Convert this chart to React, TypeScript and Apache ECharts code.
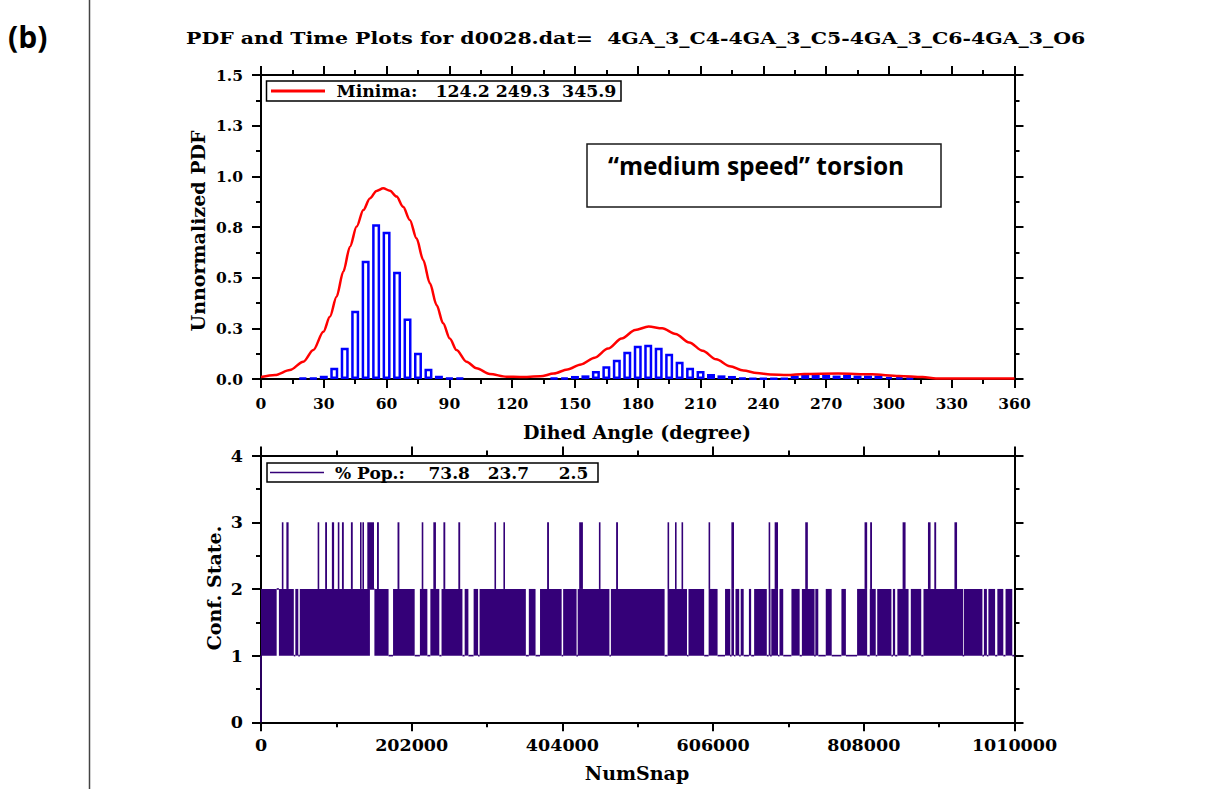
import React, { useEffect, useRef } from "react";
import * as echarts from "echarts";

// ---------- data ----------
const histCenters = [20, 25, 30, 35, 40, 45, 50, 55, 60, 65, 70, 75, 80, 85, 90, 95,
  140, 145, 150, 155, 160, 165, 170, 175, 180, 185, 190, 195, 200, 205, 210, 215, 220, 225, 230,
  235, 240, 245, 250, 255, 260, 265, 270, 275, 280, 285, 290, 295, 300, 305, 310];
const histHeights = [0.004, 0.004, 0.016, 0.056, 0.154, 0.337, 0.584, 0.763, 0.727, 0.529, 0.298, 0.13, 0.051, 0.016, 0.004, 0.004,
  0.004, 0.006, 0.015, 0.018, 0.04, 0.063, 0.095, 0.135, 0.164, 0.169, 0.154, 0.125, 0.085, 0.055, 0.04, 0.025, 0.018, 0.015, 0.005,
  0.003, 0.003, 0.003, 0.003, 0.017, 0.02, 0.02, 0.02, 0.017, 0.02, 0.017, 0.017, 0.017, 0.01, 0.007, 0.005];

const pdfAngles = [0, 6.7, 13.8, 20.2, 25, 29.8, 32.9, 36.1, 39.3, 42.5, 45.7, 48.9, 52, 55.2, 58.4, 61.6, 64.8, 67.9,
  71.1, 74.3, 77.5, 80.7, 83.9, 87, 90.2, 93.4, 98.2, 103, 109.3, 117.3, 123.8, 133.5, 139.9, 146.4, 152.9, 159.4,
  165.8, 172.3, 178.8, 185.2, 191.7, 198.1, 204.6, 211, 217.5, 224, 230.5, 236.9, 243.4, 251.4, 259.5, 275.7,
  291.8, 304.8, 316.1, 322.5, 360];
const pdfValues = [0.01, 0.02, 0.044, 0.085, 0.143, 0.233, 0.307, 0.406, 0.529, 0.653, 0.752, 0.834, 0.891, 0.928, 0.941, 0.929, 0.9, 0.85,
  0.785, 0.694, 0.587, 0.472, 0.365, 0.275, 0.2, 0.143, 0.085, 0.053, 0.025, 0.011, 0.01, 0.013, 0.027, 0.047, 0.072, 0.105,
  0.15, 0.2, 0.242, 0.259, 0.25, 0.222, 0.18, 0.139, 0.097, 0.063, 0.042, 0.03, 0.022, 0.02, 0.025, 0.027,
  0.023, 0.015, 0.01, 0.003, 0.003];

// conformational-state trajectory (snapshot numbers)
const snapMax = 1010000;
const firstState = 0;
const bandStart = 0;       // dense 1<->2 switching begins
const bandEnd = 1007000;   // dense switching ends
// intervals where the state stays put: [from, to, state]
const stays: [number, number, number][] = [
  [21000, 24000, 2], [44000, 46000, 1], [50000, 52000, 1], [146000, 152000, 2], [171000, 177000, 1],
  [206000, 213000, 1], [223000, 227000, 1], [239000, 242000, 1], [270000, 273000, 1], [278000, 285000, 1],
  [291000, 293000, 1], [355000, 359000, 1], [368000, 374000, 1], [403000, 405000, 1], [423000, 424500, 1],
  [467000, 469000, 1], [541000, 545000, 1], [571000, 573000, 1], [594000, 600000, 1], [612000, 622000, 1],
  [629000, 630500, 1], [634000, 636000, 1], [641000, 643000, 1], [647000, 654000, 1], [657000, 661000, 1],
  [678000, 680500, 1], [683000, 684000, 1], [693000, 695000, 1], [700000, 711000, 1], [722000, 725000, 1],
  [742000, 743000, 1], [747000, 757000, 1], [765000, 778000, 1], [784000, 799000, 1], [812500, 816000, 1],
  [824000, 826000, 1], [845000, 847000, 1], [850000, 853000, 1], [868000, 871000, 1], [885000, 888000, 1],
  [941000, 942000, 1], [967000, 969000, 1], [973000, 975000, 1], [984000, 987000, 1], [995000, 998000, 1],
  [1007000, 1010000, 1],
];
// excursions to state 3: [from, to]
const hops: [number, number][] = [
  [28000, 30000], [34000, 37000], [76000, 78000], [86000, 88500], [95000, 98000], [103000, 105000],
  [108500, 111000], [120500, 123000], [133000, 134500], [136000, 138000], [142500, 151500], [155500, 158000],
  [183000, 185500], [215500, 217500], [231000, 234500], [244500, 247000], [264500, 267000], [313000, 315000],
  [325000, 327000], [383500, 386000], [426500, 431500], [453000, 455000], [476000, 478500], [545000, 547000],
  [555000, 557000], [564000, 565500], [600000, 602000], [630500, 634000], [680500, 682500], [688500, 693000],
  [729500, 733000], [809000, 812500], [816500, 819000], [860000, 864000], [894000, 897500], [902500, 905000],
  [929500, 933000],
];

const titleText = "PDF and Time Plots for d0028.dat=  4GA_3_C4-4GA_3_C5-4GA_3_C6-4GA_3_O6";
const minimaText = "Minima:   124.2 249.3  345.9";
const popText = "% Pop.:    73.8   23.7     2.5";
const noteText = "\u201Cmedium speed\u201D torsion";

// ---------- styling ----------
const SERIF = '"DejaVu Serif", serif';
const SANS = '"Open Sans", "Noto Sans", sans-serif';
const STATE_COLOR = "#340078";

function buildStateItems(): number[][] {
  const items: number[][] = [];
  items.push([0, 0, firstState, 1]);
  const sorted = stays.filter((s) => s[0] < bandEnd).sort((a, b) => a[0] - b[0]);
  let cur = bandStart;
  for (const s of sorted) {
    if (s[0] > cur) items.push([cur, s[0], 1, 2]);
    cur = Math.max(cur, s[1]);
  }
  if (cur < bandEnd) items.push([cur, bandEnd, 1, 2]);
  for (const s of stays) items.push([s[0], s[1], s[2], s[2]]);
  for (const h of hops) items.push([h[0], h[1], 2, 3]);
  return items;
}

export default function App() {
  const ref = useRef<HTMLDivElement>(null);
  useEffect(() => {
    if (!ref.current) return;
    const chart = echarts.init(ref.current, undefined, { renderer: "svg" });

    const axisLine = { show: true, onZero: false, lineStyle: { color: "#000", width: 2 } };
    const axisTick = { show: true, inside: false, length: 9, lineStyle: { color: "#000", width: 2 } };
    const minorTick = { show: true, splitNumber: 2, length: 5, lineStyle: { color: "#000", width: 2 } };
    const common = { axisLine, axisTick, minorTick, splitLine: { show: false }, minorSplitLine: { show: false } };
    const lblTop = { color: "#000", fontFamily: SERIF, fontWeight: "bold" as const, fontSize: 15.5 };
    const lblBot = { color: "#000", fontFamily: SERIF, fontWeight: "bold" as const, fontSize: 17.5 };

    const gridTop = { left: 261, top: 75, width: 753.5, height: 304 };
    const gridBot = { left: 261, top: 455.6, width: 753.5, height: 266.7 };
    const binPx = (5 * gridTop.width) / 360;
    const barBorder = 2.5;

    const txt = (x: number, y: number, text: string, size: number, opts: any = {}) => ({
      type: "text",
      x, y, z: 100,
      rotation: opts.rotation || 0,
      scaleX: opts.scaleX || 1,
      style: {
        text,
        fill: "#000",
        fontFamily: opts.family || SERIF,
        fontWeight: "bold",
        fontSize: size,
        align: opts.align || "center",
        textAlign: opts.align || "center",
        verticalAlign: "middle",
        textVerticalAlign: "middle",
      },
    });

    const option: any = {
      animation: false,
      backgroundColor: "#fff",
      grid: [gridTop, gridBot],
      xAxis: [
        { gridIndex: 0, type: "value", position: "bottom", min: 0, max: 360, interval: 30, ...common,
          axisLabel: { ...lblTop, margin: 16, showMinLabel: true, showMaxLabel: true } },
        { gridIndex: 0, type: "value", position: "top", min: 0, max: 360, interval: 30, ...common, axisLabel: { show: false } },
        { gridIndex: 1, type: "value", position: "bottom", min: 0, max: snapMax, interval: 202000, ...common,
          axisLabel: { ...lblBot, margin: 14, showMinLabel: true, showMaxLabel: true, formatter: (v: number) => String(v) } },
        { gridIndex: 1, type: "value", position: "top", min: 0, max: snapMax, interval: 202000, ...common, axisLabel: { show: false } },
      ],
      yAxis: [
        { gridIndex: 0, type: "value", position: "left", min: 0, max: 1.5, interval: 0.25, ...common,
          axisLabel: { ...lblTop, margin: 18, formatter: (v: number) => v.toFixed(1) } },
        { gridIndex: 0, type: "value", position: "right", min: 0, max: 1.5, interval: 0.25, ...common, axisLabel: { show: false } },
        { gridIndex: 1, type: "value", position: "left", min: 0, max: 4, interval: 1, ...common,
          axisLabel: { ...lblBot, margin: 18, formatter: (v: number) => String(v) } },
        { gridIndex: 1, type: "value", position: "right", min: 0, max: 4, interval: 1, ...common, axisLabel: { show: false } },
      ],
      series: [
        {
          type: "bar",
          xAxisIndex: 0, yAxisIndex: 0,
          barWidth: binPx - barBorder,
          itemStyle: { color: "#ffffff", borderColor: "#0000ff", borderWidth: barBorder },
          data: histCenters.map((c, i) => [c, histHeights[i]]),
          silent: true,
        },
        {
          type: "line",
          xAxisIndex: 0, yAxisIndex: 0,
          symbol: "none",
          smooth: 0.3,
          smoothMonotone: "x",
          lineStyle: { color: "#ff0000", width: 2.5 },
          data: pdfAngles.map((a, i) => [a, pdfValues[i]]),
          silent: true,
        },
        {
          type: "custom",
          xAxisIndex: 2, yAxisIndex: 2,
          encode: { x: [0, 1], y: [2, 3] },
          data: buildStateItems(),
          silent: true,
          renderItem: (_p: any, api: any) => {
            const x0 = api.value(0), x1 = api.value(1), lo = api.value(2), hi = api.value(3);
            const a = api.coord([x0, hi]);
            const b = api.coord([x1, lo]);
            let x = a[0], w = b[0] - a[0];
            if (w < 1.6) { x = (a[0] + b[0]) / 2 - 0.8; w = 1.6; }
            let y = a[1], h = b[1] - a[1];
            if (h < 1.6) { y = (a[1] + b[1]) / 2 - 0.8; h = 1.6; }
            return { type: "rect", shape: { x, y, width: w, height: h }, style: { fill: STATE_COLOR } };
          },
        },
      ],
      graphic: [
        { type: "line", z: 100, shape: { x1: 89.5, y1: 0, x2: 89.5, y2: 789 }, style: { stroke: "#444", lineWidth: 1.5 } },
        txt(8, 36, "(b)", 30, { family: SANS, align: "left" }),
        txt(186, 38, titleText, 17.5, { align: "left", scaleX: 1.17 }),
        // top legend
        { type: "rect", z: 100, shape: { x: 266.5, y: 81, width: 354.5, height: 20 }, style: { fill: "#fff", stroke: "#000", lineWidth: 1.5 } },
        { type: "line", z: 101, shape: { x1: 271, y1: 91, x2: 325, y2: 91 }, style: { stroke: "#ff0000", lineWidth: 3 } },
        { ...txt(336.5, 91.5, minimaText, 17, { align: "left", scaleX: 1.02 }), z: 101 },
        // annotation
        { type: "rect", z: 100, shape: { x: 587, y: 144, width: 354, height: 63 }, style: { fill: "#fff", stroke: "#1a1a1a", lineWidth: 1.5 } },
        { ...txt(608, 165, noteText, 24.5, { family: SANS, align: "left" }), z: 101 },
        // bottom legend
        { type: "rect", z: 100, shape: { x: 267, y: 463, width: 331, height: 19 }, style: { fill: "#fff", stroke: "#000", lineWidth: 1.5 } },
        { type: "line", z: 101, shape: { x1: 270, y1: 472.5, x2: 324, y2: 472.5 }, style: { stroke: STATE_COLOR, lineWidth: 1.5 } },
        { ...txt(335, 472.5, popText, 17, { align: "left" }), z: 101 },
        // axis names
        txt(198, 231, "Unnormalized PDF", 19, { rotation: Math.PI / 2 }),
        txt(637, 432, "Dihed Angle (degree)", 19),
        txt(214, 588, "Conf. State.", 19, { rotation: Math.PI / 2 }),
        txt(637, 773, "NumSnap", 19),
      ],
    };
    chart.setOption(option);
    return () => chart.dispose();
  }, []);
  return (
    <div
      ref={ref}
      style={{ position: "absolute", left: 0, top: 0, width: 1210, height: 789, background: "#fff" }}
    />
  );
}
